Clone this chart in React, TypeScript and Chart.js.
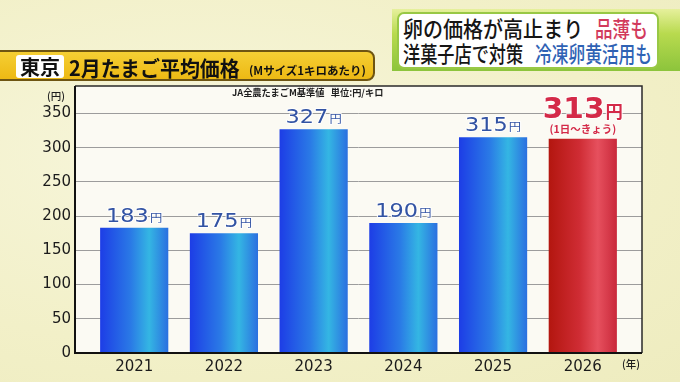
import React, { useEffect, useRef } from "react";
import { Chart, registerables } from "chart.js";

Chart.register(...registerables);

const years = ["2021", "2022", "2023", "2024", "2025", "2026"];
const prices = [183, 175, 327, 190, 315, 313];
const yTickValues = [0, 50, 100, 150, 200, 250, 300, 350];
const highlightIndex = 5;
const highlightNote = "(1日〜きょう)";
const priceUnit = "円";

const FONT_NUM = '"DejaVu Sans", sans-serif';
const FONT_JP = '"Noto Sans CJK JP", "Noto Sans", sans-serif';

function makeGradient(ctx: CanvasRenderingContext2D, cx: number, half: number, red: boolean) {
  const g = ctx.createLinearGradient(cx - half, 0, cx + half, 0);
  if (red) {
    g.addColorStop(0, "#b3160f");
    g.addColorStop(0.45, "#cf2c34");
    g.addColorStop(0.72, "#e6505e");
    g.addColorStop(1, "#c9283a");
  } else {
    g.addColorStop(0, "#1d3de6");
    g.addColorStop(0.45, "#2a7ae6");
    g.addColorStop(0.72, "#34b6e3");
    g.addColorStop(1, "#2b6fe0");
  }
  return g;
}

export default function App() {
  const ref = useRef<HTMLCanvasElement>(null);

  useEffect(() => {
    const canvas = ref.current!;
    const plotPlugin = {
      id: "plotPlugin",
      beforeDraw(chart: any) {
        const { ctx, chartArea: a } = chart;
        ctx.save();
        ctx.fillStyle = "#fbfaf3";
        ctx.fillRect(a.left, a.top, a.right - a.left, a.bottom - a.top);
        ctx.restore();
      },
      afterDatasetsDraw(chart: any) {
        const { ctx } = chart;
        const meta = chart.getDatasetMeta(0);
        meta.data.forEach((el: any, i: number) => {
          const hi = i === highlightIndex;
          const num = String(prices[i]);
          const color = hi ? "#d42a48" : "#3253a3";
          const numFont = `${hi ? "bold " : ""}${hi ? 29 : 20}px ${FONT_NUM}`;
          const unitFont = `${hi ? "bold " : ""}${hi ? 17 : 11}px ${FONT_JP}`;
          const sx = hi ? 1.02 : 1.12;
          const gap = hi ? 21 : 6;
          ctx.save();
          ctx.font = numFont;
          const wn = ctx.measureText(num).width;
          ctx.font = unitFont;
          const wu = ctx.measureText(priceUnit).width;
          const total = (wn + wu + 1) * sx;
          ctx.translate(el.x - total / 2, el.y - gap);
          ctx.scale(sx, 1);
          ctx.textAlign = "left";
          ctx.textBaseline = "alphabetic";
          ctx.lineJoin = "round";
          ctx.strokeStyle = "rgba(255,255,255,0.85)";
          ctx.lineWidth = 2;
          ctx.fillStyle = color;
          ctx.font = numFont;
          ctx.strokeText(num, 0, 0);
          ctx.fillText(num, 0, 0);
          ctx.font = unitFont;
          ctx.strokeText(priceUnit, wn + 1, 0);
          ctx.fillText(priceUnit, wn + 1, 0);
          ctx.restore();
          if (hi) {
            ctx.save();
            ctx.font = `bold 10.5px ${FONT_JP}`;
            ctx.fillStyle = color;
            ctx.textAlign = "center";
            ctx.textBaseline = "middle";
            ctx.fillText(highlightNote, el.x, el.y - 10);
            ctx.restore();
          }
        });
      },
      afterDraw(chart: any) {
        const { ctx, chartArea: a } = chart;
        ctx.save();
        ctx.strokeStyle = "#2a2a2a";
        ctx.lineWidth = 1.5;
        ctx.beginPath();
        ctx.moveTo(a.left, a.top);
        ctx.lineTo(a.right, a.top);
        ctx.lineTo(a.right, a.bottom);
        ctx.stroke();
        ctx.strokeStyle = "#111";
        ctx.lineWidth = 2;
        ctx.beginPath();
        ctx.moveTo(a.left, a.top);
        ctx.lineTo(a.left, a.bottom);
        ctx.lineTo(a.right, a.bottom);
        ctx.stroke();
        ctx.restore();
      },
    };

    const chart = new Chart(canvas, {
      type: "bar",
      data: {
        datasets: [
          {
            data: prices.map((v, i) => ({ x: i, y: v })),
            backgroundColor: (c: any) => {
              const ch = c.chart;
              const red = c.dataIndex === highlightIndex;
              const xs = ch.scales && ch.scales.x;
              if (!ch.chartArea || !xs) return red ? "#d02a36" : "#2a7ae6";
              const cx = xs.getPixelForValue(c.dataIndex);
              const half = (xs.getPixelForValue(1) - xs.getPixelForValue(0)) * 0.38;
              if (!isFinite(cx) || !isFinite(half)) return red ? "#d02a36" : "#2a7ae6";
              return makeGradient(ch.ctx, cx, half, red);
            },
            borderWidth: 0,
            categoryPercentage: 1,
            barPercentage: 0.76,
          },
        ],
      },
      options: {
        responsive: false,
        animation: false,
        events: [],
        layout: { padding: { top: 86, right: 38, left: 0, bottom: 0 } },
        plugins: { legend: { display: false }, tooltip: { enabled: false } },
        scales: {
          x: {
            type: "linear",
            offset: false,
            min: -0.66,
            max: 5.66,
            afterBuildTicks: (s: any) => {
              s.ticks = years.map((_, i) => ({ value: i }));
            },
            afterFit: (s: any) => {
              s.height = 29;
            },
            grid: { display: false, drawTicks: false, offset: false },
            border: { display: false },
            ticks: {
              callback: (v: any) => years[v as number] ?? "",
              color: "#1b1b1b",
              font: { family: FONT_NUM, size: 15 },
              padding: 5,
              maxRotation: 0,
              autoSkip: false,
            },
          },
          y: {
            min: 0,
            max: 390,
            afterBuildTicks: (s: any) => {
              s.ticks = yTickValues.map((v) => ({ value: v }));
            },
            afterFit: (s: any) => {
              s.width = 75;
            },
            grid: { color: "#9c9c9c", lineWidth: 1, drawTicks: false },
            border: { display: false },
            ticks: {
              callback: (v: any) => String(v),
              color: "#1b1b1b",
              font: { family: FONT_NUM, size: 15 },
              padding: 4,
            },
          },
        },
      },
      plugins: [plotPlugin],
    } as any);
    return () => chart.destroy();
  }, []);

  const abs = (s: React.CSSProperties): React.CSSProperties => ({ position: "absolute", whiteSpace: "pre", ...s });
  const squish = (left: number, cy: number, size: number, sx: number, color: string, text: string, weight: number | string = 500) => (
    <div
      style={abs({
        left,
        top: cy - size / 2,
        height: size,
        lineHeight: `${size}px`,
        fontSize: size,
        fontFamily: FONT_JP,
        fontWeight: weight as any,
        color,
        transform: `scaleX(${sx})`,
        transformOrigin: "left center",
      })}
    >
      {text}
    </div>
  );

  return (
    <div
      style={{
        position: "fixed",
        left: 0,
        top: 0,
        width: 680,
        height: 382,
        overflow: "hidden",
        background: "radial-gradient(ellipse at 30% 40%, #f7f6dc 0%, #f2f0c8 60%, #eeecbf 100%)",
      }}
    >
      <canvas ref={ref} width={680} height={382} style={abs({ left: 0, top: 0, width: 680, height: 382 })} />

      {/* top-right caption */}
      <div style={abs({ left: 392, top: 9, width: 288, height: 62, background: "linear-gradient(#e6f09c, #b8da4e 40%, #8cc43c)" })} />
      <div
        style={abs({
          left: 397,
          top: 12,
          width: 262,
          height: 57,
          boxSizing: "border-box",
          background: "#ffffff",
          border: "2px solid #98c845",
          borderRadius: 7,
        })}
      />
      {squish(403, 27, 22, 0.91, "#151515", "卵の価格が高止まり")}
      {squish(595, 27, 22, 0.8, "#d23a5c", "品薄も")}
      {squish(403, 52, 22, 0.78, "#151515", "洋菓子店で対策")}
      {squish(535, 52, 22, 0.76, "#2f62b4", "冷凍卵黄活用も")}

      {/* title banner */}
      <div
        style={abs({
          left: -4,
          top: 50,
          width: 379,
          height: 31,
          boxSizing: "border-box",
          background: "linear-gradient(#f5cf34, #edb914)",
          border: "2px solid #6e5512",
          borderRadius: "0 8px 8px 0",
        })}
      />
      <div style={abs({ left: 16, top: 55, width: 48, height: 23, background: "#fff", borderRadius: 3 })} />
      {squish(20, 67, 20, 1, "#111", "東京", 700)}
      {squish(69, 67, 21, 0.95, "#111", "2月たまご平均価格", 700)}
      {squish(249, 71, 11.5, 1, "#111", "(Mサイズ1キロあたり)", 700)}

      {/* source / unit */}
      {squish(232, 93, 9.5, 0.97, "#1e1e1e", "JA全農たまごM基準値   単位:円/キロ", 700)}
      {squish(47, 96, 10.5, 1, "#1e1e1e", "(円)", 500)}
      {squish(622, 364, 10.5, 1, "#1e1e1e", "(年)", 500)}
    </div>
  );
}
